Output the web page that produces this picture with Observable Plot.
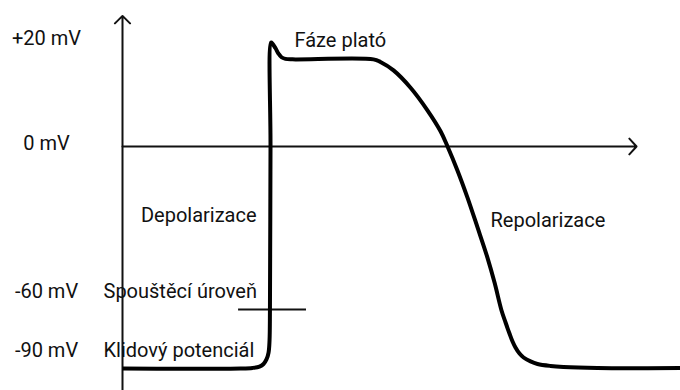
<!DOCTYPE html>
<html>
<head>
<meta charset="utf-8">
<script src="https://cdn.jsdelivr.net/npm/d3@7"></script>
<script src="https://cdn.jsdelivr.net/npm/@observablehq/plot@0.6"></script>
<style>
  html, body { margin: 0; padding: 0; background: #fff; }
  #chart svg { display: block; }
</style>
</head>
<body>
<div id="chart"></div>
<script>
// Action potential (schematic) — time in ms, membrane voltage in mV
const timeMs = [0, 84.6, 93.2, 98.2, 101.1, 103.2, 104.7, 105.4, 105.7, 106.1, 106.5, 107.5, 109.7, 111.8, 114.0, 116.8, 121.9, 179.9, 184.9, 194.3, 206.5, 218.6, 228.0, 233.0, 240.1, 247.3, 254.5, 261.6, 266.7, 271.7, 274.6, 277.4, 279.6, 281.7, 284.6, 287.5, 292.5, 297.5, 306.8, 316.1, 340.5, 400];
const voltageMv = [-90, -90, -89.7, -89.0, -87.7, -85.4, -81.9, -75.8, -60, 0, 19.8, 19.6, 18.7, 17.7, 17.0, 16.7, 16.6, 16.6, 16.1, 14.5, 11.2, 6.9, 2.9, 0, -8.8, -18.8, -29.8, -40.9, -50.1, -60.5, -66.6, -72.2, -76.3, -79.3, -82.4, -84.4, -86.4, -87.7, -88.7, -89.2, -89.7, -89.8];

// Voltage levels shown on the left
const levelValues = [20, 0, -60, -90];
const levelLabels = ["+20 mV", "0 mV", "-60 mV", "-90 mV"];
const levelNames = ["", "", "Spouštěcí úroveň", "Klidový potenciál"];

// Threshold marker extent (ms)
const thresholdValue = -60;
const thresholdFrom = 83.2;
const thresholdTo = 131.9;

// Phase annotations (anchor in ms / mV)
const phaseNames = ["Depolarizace", "Fáze plató", "Repolarizace"];
const phaseTime = [96.1, 123.3, 263.8];
const phaseVoltage = [-25.4, 20.2, -27.2];
const phaseAnchor = ["end", "start", "start"];

// Axis extents
const timeAxisEnd = 368.5;
const voltageAxisBottom = -101;
const voltageAxisTop = 25;

const curve = timeMs.map((t, i) => ({t, v: voltageMv[i]}));
const levels = levelValues.map((v, i) => ({v, label: levelLabels[i], name: levelNames[i]}));
const phases = phaseNames.map((name, i) => ({name, t: phaseTime[i], v: phaseVoltage[i], anchor: phaseAnchor[i]}));

const upper = levels.filter(d => d.v >= 0);
const lower = levels.filter(d => d.v < 0);

const chart = Plot.plot({
  width: 680,
  height: 390,
  marginLeft: 122,
  marginRight: 0,
  marginTop: 0,
  marginBottom: 0,
  style: {fontFamily: "Roboto, 'Liberation Sans', sans-serif", fontSize: "20px", background: "#fff", color: "#111"},
  x: {domain: [0, 400], axis: null},
  y: {type: "linear", domain: [-101, -90, -60, 0, 20, 28], range: [390, 368, 309, 146, 41, 0], axis: null},
  marks: [
    // axes
    Plot.arrow([{}], {x1: 0, x2: 0, y1: voltageAxisBottom, y2: voltageAxisTop, stroke: "#111", strokeWidth: 2, headAngle: 90, headLength: 8}),
    Plot.arrow([{}], {x1: 0, x2: timeAxisEnd, y1: 0, y2: 0, stroke: "#111", strokeWidth: 2, headAngle: 95, headLength: 8}),
    // threshold tick
    Plot.ruleY([thresholdValue], {x1: thresholdFrom, x2: thresholdTo, stroke: "#111", strokeWidth: 1.8}),
    // action potential curve
    Plot.line(curve, {x: "t", y: "v", stroke: "#000", strokeWidth: 4, curve: "catmull-rom", strokeLinejoin: "round", strokeLinecap: "butt"}),
    // level labels
    Plot.text(upper, {y: "v", text: "label", frameAnchor: "left", dx: -76, dy: -3, textAnchor: "middle", fill: "#111"}),
    Plot.text(lower, {y: "v", text: "label", frameAnchor: "left", dx: -76, dy: -18, textAnchor: "middle", fill: "#111"}),
    Plot.text(lower, {y: "v", text: "name", frameAnchor: "left", dx: -19, dy: -18, textAnchor: "start", fill: "#111"}),
    // phase annotations
    Plot.text(phases.filter(d => d.anchor === "end"), {x: "t", y: "v", text: "name", textAnchor: "end", fill: "#111"}),
    Plot.text(phases.filter(d => d.anchor === "start"), {x: "t", y: "v", text: "name", textAnchor: "start", fill: "#111"})
  ]
});

document.getElementById("chart").appendChild(chart);
</script>
</body>
</html>
